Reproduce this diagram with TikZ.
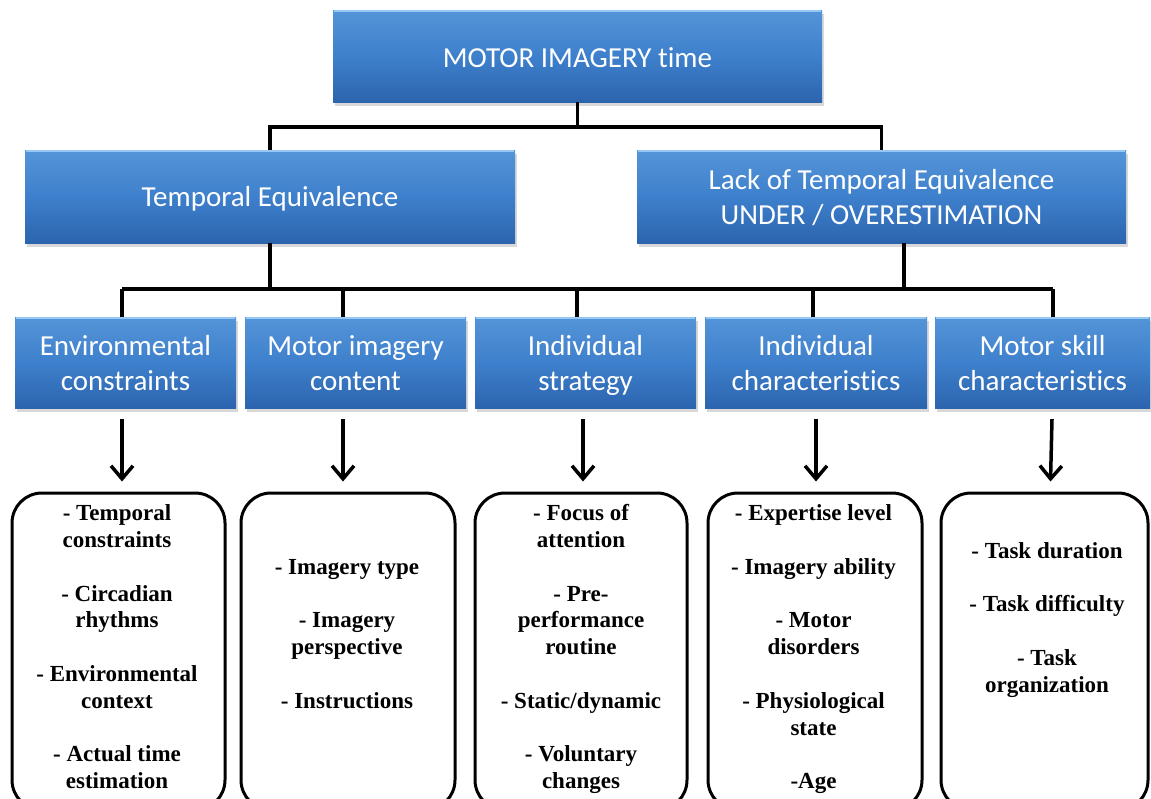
\documentclass[tikz,border=0pt]{standalone}
\usepackage{fontspec}
\setmainfont{Liberation Serif}
\newfontfamily\calfont[Ligatures=NoCommon]{Carlito}
\usetikzlibrary{arrows.meta,shadows}
\definecolor{bluetop}{RGB}{84,148,216}
\definecolor{bluemid}{RGB}{62,128,204}
\definecolor{bluebot}{RGB}{44,100,174}
\definecolor{bluehl}{RGB}{150,200,245}
\tikzset{
  bluebox/.style={rectangle, inner sep=0pt,
    top color=bluetop, bottom color=bluebot, middle color=bluemid,
    drop shadow={shadow xshift=1.5pt, shadow yshift=-4pt, opacity=0.3}},
  bluetext/.style={inner sep=0pt, align=center, text=white,
    font=\calfont\fontsize{29}{35}\selectfont},
  hl/.style={draw=bluehl, line width=2pt},
  conn/.style={line width=3.5pt, line join=miter},
  arr/.style={line width=3.5pt, -{Straight Barb[length=13pt,width=22pt]}},
  itembox/.style={draw, line width=3pt, rounded corners=30pt, inner sep=0pt, fill=white},
  itemtxt/.style={anchor=base, inner sep=0pt, font=\bfseries\fontsize{23}{27}\selectfont},
}
\begin{document}
\begin{tikzpicture}[x=1pt,y=-1pt]
\useasboundingbox (0,0) rectangle (1151,798);
\clip (0,0) rectangle (1151,798);
\fill[white] (0,0) rectangle (1151,798);

% level 1 and 2
\node[bluebox, minimum width=489pt, minimum height=92pt] (top) at (577.5,56) {};
\node[bluebox, minimum width=490pt, minimum height=93pt] (tmp) at (270,196.5) {};
\node[bluebox, minimum width=489pt, minimum height=93pt] (lack) at (881.5,196.5) {};

% level 3
\node[bluebox, minimum width=221pt, minimum height=91pt] (env) at (125.5,362.5) {};
\node[bluebox, minimum width=221pt, minimum height=91pt] (mic) at (355.5,362.5) {};
\node[bluebox, minimum width=221pt, minimum height=91pt] (ist) at (585.5,362.5) {};
\node[bluebox, minimum width=222pt, minimum height=91pt] (ich) at (816,362.5) {};
\node[bluebox, minimum width=215pt, minimum height=91pt] (msc) at (1042.5,362.5) {};

\foreach \n in {top,tmp,lack,env,mic,ist,ich,msc}
  \draw[hl] ([xshift=1pt,yshift=-1pt]\n.north west) -- ([xshift=-1pt,yshift=-1pt]\n.north east);

% box texts
\node[bluetext] (topt) at ([yshift=-2pt]top.center) {MOTOR IMAGERY time};
\node[bluetext] (tmpt) at ([yshift=-2pt]tmp.center) {Temporal Equivalence};
\node[bluetext] (lackt) at ([yshift=-3pt]lack.center) {Lack of Temporal Equivalence\strut\\UNDER / OVERESTIMATION\strut};
\node[bluetext] (envt) at ([yshift=-3pt]env.center) {Environmental\strut\\constraints\strut};
\node[bluetext] (mict) at ([yshift=-3pt]mic.center) {Motor imagery\strut\\content\strut};
\node[bluetext] (istt) at ([yshift=-3pt]ist.center) {Individual\strut\\strategy\strut};
\node[bluetext] (icht) at ([yshift=-3pt]ich.center) {Individual\strut\\characteristics\strut};
\node[bluetext] (msct) at ([yshift=-3pt]msc.center) {Motor skill\strut\\characteristics\strut};

% connectors top -> level 2
\coordinate (bA) at (577.5,127);
\draw[conn] (top.south) -- (bA);
\draw[conn] (tmp.north) |- (bA) -| (lack.north);

% connectors level 2 -> level 3
\coordinate (c1) at (122,289);
\coordinate (c2) at (343,289);
\coordinate (c3) at (577,289);
\coordinate (c4) at (813,289);
\coordinate (c5) at (1053,289);
\draw[conn] (c1) -- (c5);
\draw[conn] (tmp.south) -- (tmp.south |- c1);
\draw[conn] ([xshift=22.5pt]lack.south) -- ([xshift=22.5pt]lack.south |- c1);
\draw[conn] (c1) -- (c1 |- env.north);
\draw[conn] (c2) -- (c2 |- mic.north);
\draw[conn] (c3) -- (c3 |- ist.north);
\draw[conn] (c4) -- (c4 |- ich.north);
\draw[conn] (c5) -- (c5 |- msc.north);

% bottom boxes
\node[itembox, minimum width=213pt, minimum height=317pt] (b1) at (118.5,651.5) {};
\node[itembox, minimum width=214pt, minimum height=317pt] (b2) at (348,651.5) {};
\node[itembox, minimum width=212pt, minimum height=317pt] (b3) at (581,651.5) {};
\node[itembox, minimum width=214pt, minimum height=317pt] (b4) at (815,651.5) {};
\node[itembox, minimum width=207pt, minimum height=317pt] (b5) at (1044.5,651.5) {};

% arrows
\draw[arr] ([xshift=-3.5pt,yshift=-11pt]env.south) -- ([xshift=3.5pt,yshift=10pt]b1.north);
\draw[arr] ([xshift=-12.5pt,yshift=-11pt]mic.south) -- ([xshift=-5pt,yshift=10pt]b2.north);
\draw[arr] ([xshift=-2.5pt,yshift=-11pt]ist.south) -- ([xshift=2pt,yshift=10pt]b3.north);
\draw[arr] ([yshift=-11pt]ich.south) -- ([xshift=1pt,yshift=10pt]b4.north);
\draw[arr] ([xshift=9.5pt,yshift=-11pt]msc.south) -- ([xshift=6pt,yshift=10pt]b5.north);

% texts
\foreach \t/\k [count=\i] in {{- Temporal}/0, {constraints}/1, {- Circadian}/3, {rhythms}/4,
  {- Environmental}/6, {context}/7, {- Actual time}/9, {estimation}/10}
  \node[itemtxt] (ta\i) at (117, 520.7+26.8*\k) {\t};
\foreach \t/\k [count=\i] in {{- Imagery type}/2, {- Imagery}/4, {perspective}/5, {- Instructions}/7}
  \node[itemtxt] (tb\i) at (347, 520.7+26.8*\k) {\t};
\foreach \t/\k [count=\i] in {{- Focus of}/0, {attention}/1, {- Pre-}/3, {performance}/4, {routine}/5,
  {- Static/dynamic}/7, {- Voluntary}/9, {changes}/10}
  \node[itemtxt] (tc\i) at (581, 520.7+26.8*\k) {\t};
\foreach \t/\k [count=\i] in {{- Expertise level}/0, {- Imagery ability}/2, {- Motor}/4, {disorders}/5,
  {- Physiological}/7, {state}/8, {-Age}/10}
  \node[itemtxt] (td\i) at (813.5, 520.7+26.8*\k) {\t};
\foreach \t/\k [count=\i] in {{- Task duration}/1.4, {- Task difficulty}/3.4, {- Task}/5.4, {organization}/6.4}
  \node[itemtxt] (te\i) at (1047, 520.7+26.8*\k) {\t};
\end{tikzpicture}
\end{document}
